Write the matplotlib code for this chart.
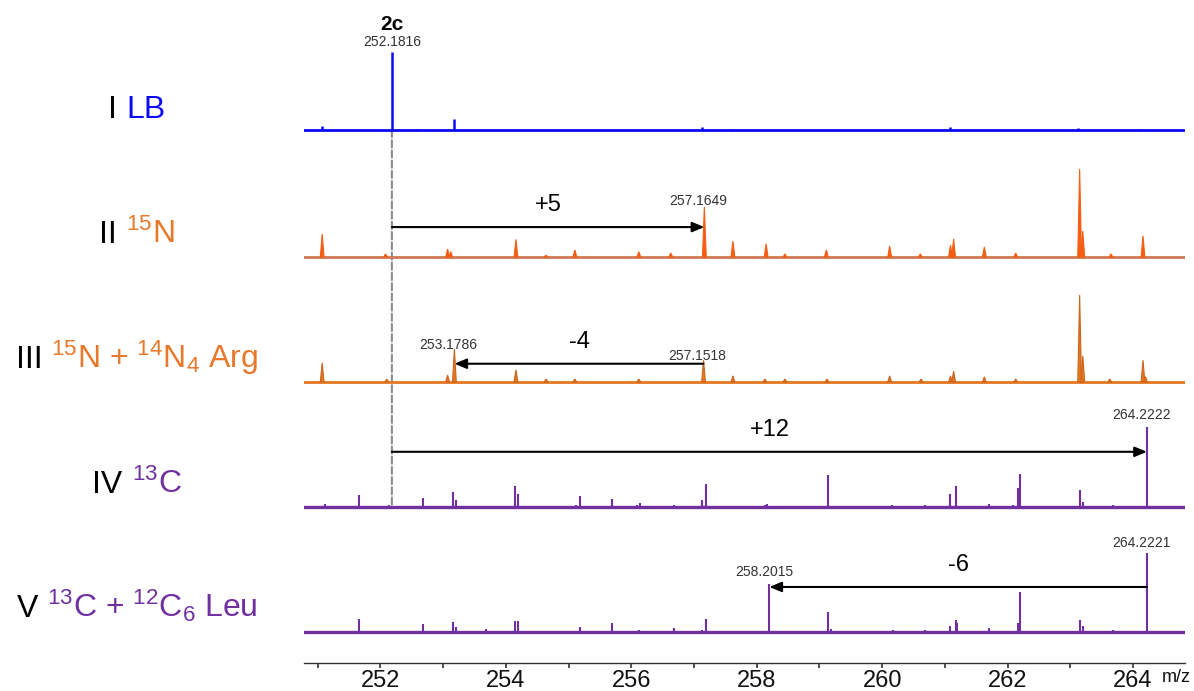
import matplotlib
matplotlib.use("Agg")
import matplotlib.pyplot as plt
from matplotlib.patches import ConnectionPatch
from matplotlib.ticker import MultipleLocator

plt.rcParams['font.family'] = ['Liberation Sans', 'DejaVu Sans']
plt.rcParams['mathtext.fontset'] = 'custom'
plt.rcParams['mathtext.rm'] = 'Liberation Sans'
plt.rcParams['mathtext.it'] = 'Liberation Sans:italic'
plt.rcParams['mathtext.bf'] = 'Liberation Sans:bold'

# ---------------------------------------------------------------- data
# relative intensity (% of base peak) for each labelling condition

# I  LB (unlabelled)
mz_lb = [251.07, 252.1816, 252.58, 253.18, 257.13, 257.60, 261.09, 263.13, 264.12]
int_lb = [5, 100, 1.5, 14, 4, 1, 4, 3, 1]

# II  15N
mz_15n = [251.07, 252.08, 253.07, 253.12, 254.16, 254.64, 255.10, 256.12, 256.63,
          257.1649, 257.62, 258.15, 258.45, 259.11, 260.12, 260.61, 261.09, 261.14,
          261.63, 262.13, 263.15, 263.20, 263.65, 264.16]
int_15n = [26, 3.5, 9, 6, 20, 2, 8, 6, 4.5,
           57, 18, 15, 3.5, 8, 12.5, 3.5, 13.5, 20.5,
           11.5, 4.5, 100, 29.5, 3.5, 24]

# III  15N + 14N4 Arg
mz_15n_arg = [251.07, 252.10, 253.07, 253.1786, 254.16, 254.64, 255.10, 256.12,
              257.1518, 257.62, 258.13, 258.45, 259.12, 260.12, 260.62, 261.09,
              261.14, 261.63, 262.13, 263.15, 263.20, 263.63, 264.16, 264.20]
int_15n_arg = [22, 3.5, 8, 38, 14, 3.5, 3.5, 3.5,
               25, 7, 3.5, 3.5, 3.5, 7, 3.5, 7,
               12.5, 6, 3.5, 100, 30, 3.5, 25, 6]

# IV  13C
mz_13c = [251.12, 251.65, 252.14, 252.67, 253.15, 253.20, 253.68, 254.14, 254.19, 255.11,
          255.18, 255.69, 256.09, 256.14, 256.68, 257.13, 257.19, 258.13, 258.17, 258.87,
          259.14, 260.16, 260.69, 261.09, 261.18, 261.71, 262.09, 262.16, 262.20, 262.70,
          263.15, 263.21, 263.68, 264.2222, 264.70]
int_13c = [3.5, 15, 2.5, 11, 19, 9, 1.5, 26, 16, 2.5,
           14, 10, 2.5, 5, 2.5, 9, 29, 2.5, 4, 1.5,
           40, 2.5, 2.5, 16, 26, 4, 2.5, 24, 41, 1.5,
           21, 6, 2.5, 100, 1.5]

# V  13C + 12C6 Leu
mz_13c_leu = [251.12, 251.65, 252.14, 252.67, 253.15, 253.20, 253.68, 254.14, 254.19, 255.11,
              255.18, 255.69, 256.12, 256.68, 257.13, 257.19, 258.2015, 258.87, 259.14, 259.19,
              260.17, 260.69, 261.09, 261.18, 261.20, 261.71, 262.16, 262.20, 263.15, 263.21,
              263.68, 264.2221, 264.70]
int_13c_leu = [1.5, 16, 1.5, 10, 13, 6, 4, 14, 14, 1.5,
               6, 11, 2.5, 5, 2.5, 16, 61, 1.5, 25, 4,
               2.5, 2.5, 7.5, 15, 11, 5, 11, 51, 15, 7.5,
               2.5, 100, 1.5]

compound = "2c"
mz_parent = 252.1816
xticks_major = [252, 254, 256, 258, 260, 262, 264]

# ---------------------------------------------------------------- style
BLUE = "#0a0af5"
ORANGE_A = "#f65c12"
ORANGE_A_BASE = "#d0784f"
ORANGE_B = "#e6761f"
ORANGE_B_EDGE = "#c9651c"
ORANGE_TXT = "#e8782a"
PURPLE = "#7030a0"
LABEL_GREY = "#333333"

W, H = 1194, 691
fig = plt.figure(figsize=(W / 100, H / 100), dpi=100)

X_LO, X_HI = 250.78, 264.83
LEFT_PX, WIDTH_PX = 304, 881


def rect(top_px, height_px):
    return [LEFT_PX / W, 1 - (top_px + height_px) / H, WIDTH_PX / W, height_px / H]


def make_panel(baseline_px, apex_px):
    """Axes whose zero line sits at baseline_px and where 100 % reaches apex_px above it."""
    below, above = 6, 112
    ax = fig.add_axes(rect(baseline_px - above, above + below))
    k = 100.0 / apex_px
    ax.set_xlim(X_LO, X_HI)
    ax.set_ylim(-below * k, above * k)
    ax.axis("off")
    return ax


def sticks(ax, mz, inten, color, lw=1.6, base_lw=2.2):
    ax.axhline(0, color=color, lw=base_lw, zorder=1)
    ax.vlines(mz, 0, inten, color=color, lw=lw, zorder=2)


def profile(ax, mz, inten, face, edge, base, hw=0.03):
    ax.axhline(0, color=base, lw=2.0, zorder=1)
    for m, h in zip(mz, inten):
        ax.fill([m - hw, m, m + hw], [0, h, 0], facecolor=face, edgecolor=edge,
                lw=0.8, zorder=2)


def peak_label(ax, mz, inten, m, dx, dy):
    h = inten[mz.index(m)]
    ax.annotate(f"{m:.4f}", xy=(m, h), xytext=(dx, dy), textcoords="offset pixels",
                ha="center", va="center", fontsize=10, color=LABEL_GREY)


def shift_arrow(ax, m_from, m_to, y):
    ax.annotate("", xy=(m_to, y), xytext=(m_from, y),
                arrowprops=dict(arrowstyle="-|>,head_length=0.6,head_width=0.25",
                                color="black", lw=1.5, mutation_scale=12,
                                shrinkA=0, shrinkB=0), zorder=5)
    ax.annotate(f"{round(m_to - m_from):+d}", xy=((m_from + m_to) / 2, y),
                xytext=(0, 22), textcoords="offset pixels",
                ha="center", va="center", fontsize=17, color="black")


baselines = [130, 257, 382, 507, 632]
apex = [78, 88, 87, 80, 79]
axes = [make_panel(b, a) for b, a in zip(baselines, apex)]
ax1, ax2, ax3, ax4, ax5 = axes

# I LB
sticks(ax1, mz_lb, int_lb, BLUE, lw=1.8, base_lw=2.0)
peak_label(ax1, mz_lb, int_lb, 252.1816, 0, 10)
ax1.annotate(compound, xy=(252.1816, 100), xytext=(0, 27), textcoords="offset pixels",
             ha="center", va="center", fontsize=15, fontweight="bold", color="black")

# II 15N
profile(ax2, mz_15n, int_15n, ORANGE_A, ORANGE_A, ORANGE_A_BASE)
peak_label(ax2, mz_15n, int_15n, 257.1649, -6, 6)
shift_arrow(ax2, mz_parent, 257.1649, 34)

# III 15N + 14N4 Arg
profile(ax3, mz_15n_arg, int_15n_arg, ORANGE_B, ORANGE_B_EDGE, ORANGE_B)
peak_label(ax3, mz_15n_arg, int_15n_arg, 253.1786, -6, 4)
peak_label(ax3, mz_15n_arg, int_15n_arg, 257.1518, -6, 4)
shift_arrow(ax3, 257.1518, 253.1786, 21)

# IV 13C
sticks(ax4, mz_13c, int_13c, PURPLE, lw=1.5, base_lw=2.4)
peak_label(ax4, mz_13c, int_13c, 264.2222, -5, 12)
shift_arrow(ax4, mz_parent, 264.2222, 69)

# V 13C + 12C6 Leu
sticks(ax5, mz_13c_leu, int_13c_leu, PURPLE, lw=1.5, base_lw=2.4)
peak_label(ax5, mz_13c_leu, int_13c_leu, 264.2221, -5, 10)
peak_label(ax5, mz_13c_leu, int_13c_leu, 258.2015, -5, 12)
shift_arrow(ax5, 264.2221, 258.2015, 57)

# dashed guide at the unlabelled parent mass
guide = ConnectionPatch(xyA=(mz_parent, 0), coordsA=ax1.transData,
                        xyB=(mz_parent, 0), coordsB=ax4.transData,
                        color="#8c8c8c", lw=1.5, linestyle=(0, (3.4, 1.5)), zorder=0)
fig.add_artist(guide)

# shared m/z axis
axx = fig.add_axes(rect(662, 1))
axx.set_xlim(X_LO, X_HI)
axx.set_yticks([])
for side in ("top", "left", "right"):
    axx.spines[side].set_visible(False)
axx.spines["bottom"].set_color("#333333")
axx.spines["bottom"].set_linewidth(1.0)
axx.patch.set_alpha(0)
axx.set_xticks(xticks_major)
axx.set_xticklabels([str(t) for t in xticks_major])
axx.xaxis.set_minor_locator(MultipleLocator(1))
axx.tick_params(axis="x", which="both", direction="out", length=3.6, width=1.1,
                color="#222222", pad=1.5, labelsize=17, labelcolor="#111111")
fig.text(1176 / W, 1 - 677 / H, "m/z", ha="center", va="center", fontsize=13,
         color="#111111")

# condition labels, roman numeral in black followed by coloured description
renderer = fig.canvas.get_renderer()


def rich_label(numeral, body, color, y_px, x_center=137, gap_px=9, size=23):
    t1 = fig.text(0, 1 - y_px / H, numeral, color="black", fontsize=size,
                  ha="left", va="baseline")
    t2 = fig.text(0, 1 - y_px / H, body, color=color, fontsize=size,
                  ha="left", va="baseline")
    w1 = t1.get_window_extent(renderer).width
    w2 = t2.get_window_extent(renderer).width
    x0 = x_center - (w1 + gap_px + w2) / 2
    t1.set_x(x0 / W)
    t2.set_x((x0 + w1 + gap_px) / W)


rich_label("I", "LB", BLUE, 118)
rich_label("II", r"$^{15}$N", ORANGE_TXT, 243)
rich_label("III", r"$^{15}$N + $^{14}$N$_{4}$ Arg", ORANGE_TXT, 368)
rich_label("IV", r"$^{13}$C", PURPLE, 493)
rich_label("V", r"$^{13}$C + $^{12}$C$_{6}$ Leu", PURPLE, 617)

fig.savefig("out.png", dpi=100)
